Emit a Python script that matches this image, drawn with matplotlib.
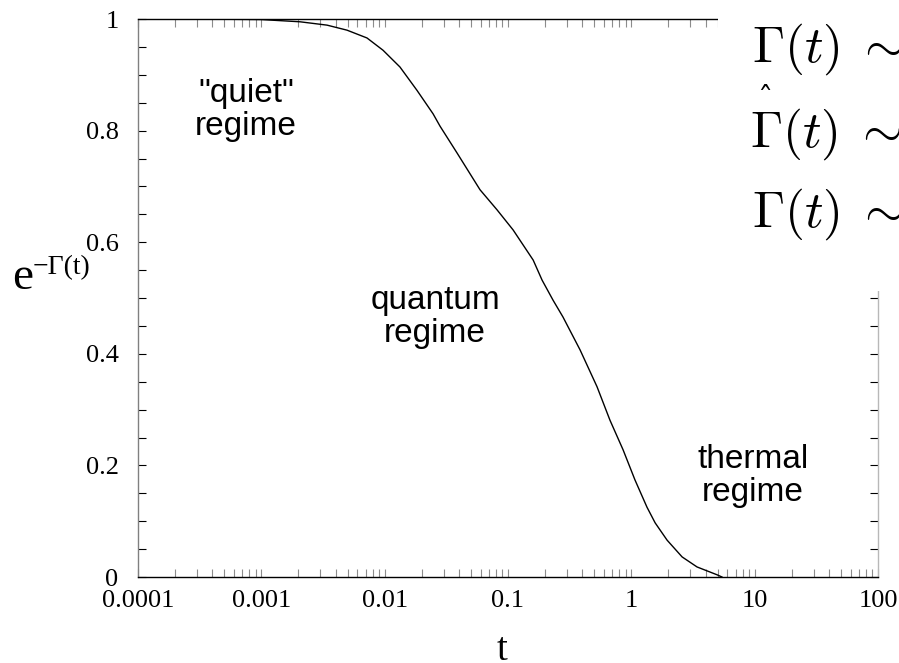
import matplotlib
matplotlib.use("Agg")
import matplotlib.pyplot as plt
import matplotlib.ticker as ticker
from matplotlib.patches import Rectangle
import numpy as np

# curve (t, exp(-Gamma(t)))
t_vals = [2.8e-4, 1.0e-3, 2.06e-3, 3.41e-3, 4.95e-3, 7.19e-3, 9.70e-3, 1.33e-2,
          1.83e-2, 2.47e-2, 2.81e-2, 3.86e-2, 5.93e-2, 8.15e-2, 0.110, 0.160,
          0.189, 0.232, 0.279, 0.384, 0.527, 0.671, 0.857, 1.07, 1.34, 1.56,
          1.95, 2.58, 3.41, 4.95, 5.43]
decay_vals = [1.0, 0.999, 0.995, 0.989, 0.980, 0.966, 0.944, 0.914,
              0.872, 0.830, 0.808, 0.760, 0.694, 0.658, 0.622, 0.568,
              0.532, 0.496, 0.466, 0.407, 0.341, 0.281, 0.228, 0.174, 0.125, 0.097,
              0.066, 0.036, 0.018, 0.004, 0.0]

x_ticks = [1e-4, 1e-3, 1e-2, 1e-1, 1, 10, 100]
x_tick_labels = ["0.0001", "0.001", "0.01", "0.1", "1", "10", "100"]
y_ticks = [0, 0.2, 0.4, 0.6, 0.8, 1.0]
y_tick_labels = ["0", "0.2", "0.4", "0.6", "0.8", "1"]

regime_labels = ['"quiet"\nregime', "quantum\nregime", "thermal\nregime"]
regime_pos = [(246, 110), (435, 317), (753, 476)]
gamma_baselines = [62, 147, 227]

W, H = 899, 663
serif = ["Liberation Serif", "DejaVu Serif"]
sans = ["Liberation Sans", "DejaVu Sans"]


def fx(px):
    return px / W


def fy(py):
    return 1 - py / H


fig = plt.figure(figsize=(W / 100, H / 100), dpi=100)
ax = fig.add_axes([fx(138), fy(577), fx(878) - fx(138), fy(19) - fy(577)])

ax.plot(t_vals, decay_vals, color="black", lw=1.0)

ax.set_xscale("log")
ax.set_xlim(1e-4, 100)
ax.set_ylim(0, 1)

ax.xaxis.set_major_locator(ticker.FixedLocator(x_ticks))
ax.xaxis.set_major_formatter(ticker.FixedFormatter(x_tick_labels))
ax.xaxis.set_minor_locator(ticker.LogLocator(base=10, subs=np.arange(2, 10), numticks=20))
ax.xaxis.set_minor_formatter(ticker.NullFormatter())
ax.yaxis.set_major_locator(ticker.FixedLocator(y_ticks))
ax.yaxis.set_major_formatter(ticker.FixedFormatter(y_tick_labels))
ax.yaxis.set_minor_locator(ticker.MultipleLocator(0.05))

ax.tick_params(which="both", direction="in", length=6, width=0.8, top=True, right=True)
ax.tick_params(axis="x", which="both", colors="0.55", labelcolor="black", pad=9.5)
ax.tick_params(axis="y", which="both", color="black", pad=14)
for lab in ax.get_xticklabels() + ax.get_yticklabels():
    lab.set_fontfamily(serif)
    lab.set_fontsize(19)

ax.spines["left"].set_color("0.5")
ax.spines["right"].set_color("0.72")
ax.spines["top"].set_color("black")
ax.spines["bottom"].set_color("black")
for s in ax.spines.values():
    s.set_linewidth(1.0)

# axis labels
fig.text(fx(12), fy(289), "e", fontsize=34, family=serif, va="baseline", ha="left")
fig.text(fx(33), fy(274), "\u2212\u0393(t)", fontsize=20, family=serif, va="baseline", ha="left")
fig.text(fx(502), fy(660), "t", fontsize=28, family=serif, va="baseline", ha="center")

for txt, (px, py) in zip(regime_labels, regime_pos):
    fig.text(fx(px), fy(py), txt, fontsize=24, family=sans, ha="center", va="center",
             linespacing=1.1)

# white patch over the top-right corner with the overlapping formula pieces
fig.add_artist(Rectangle((fx(718), fy(291)), 1 - fx(718), 1 - fy(291) + 0.01,
                         transform=fig.transFigure, facecolor="white",
                         edgecolor="none", zorder=5))
for i, py in enumerate(gamma_baselines):
    fig.text(fx(752 if i != 1 else 750), fy(py), r"$\Gamma(t)\;\sim$", fontsize=37,
             math_fontfamily="cm", va="baseline", ha="left", zorder=6)
fig.text(fx(757), fy(110), "\u02c6", fontsize=22, family=["DejaVu Serif"],
         va="baseline", ha="left", zorder=6)

fig.savefig("out.png", dpi=100)
